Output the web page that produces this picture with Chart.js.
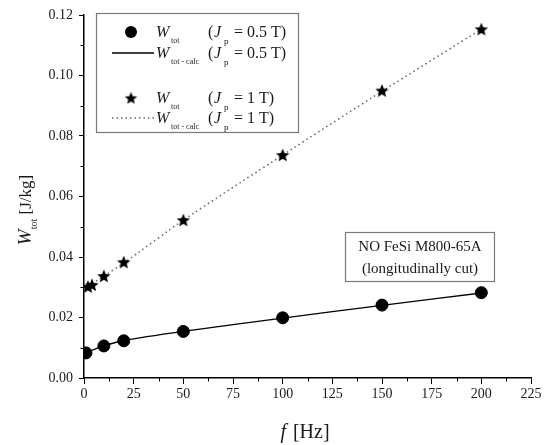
<!DOCTYPE html>
<html>
<head>
<meta charset="utf-8">
<script src="https://cdn.jsdelivr.net/npm/chart.js@4"></script>
<style>
html,body{margin:0;padding:0;background:#fff;}
#wrap{width:544px;height:445px;position:relative;}
</style>
</head>
<body>
<div id="wrap"><canvas id="c" width="544" height="445"></canvas></div>
<script>
// ---- data ----
const freqCircles = [1, 10, 20, 50, 100, 150, 200];
const wtot05 = [0.0083, 0.0106, 0.0123, 0.0154, 0.0199, 0.0241, 0.0282];
const freqStars = [2, 4, 10, 20, 50, 100, 150, 200];
const wtot1 = [0.0302, 0.0308, 0.0337, 0.0383, 0.0522, 0.0737, 0.0950, 0.1153];
const freqCalc = [0, 10, 20, 50, 100, 150, 200];
const calc05 = [0.0082, 0.0106, 0.0124, 0.0154, 0.0198, 0.0240, 0.0281];
const calc1 = [0.0295, 0.0337, 0.0380, 0.0522, 0.0737, 0.0948, 0.1153];
const xTicks = [0, 25, 50, 75, 100, 125, 150, 175, 200, 225];
const yTicks = [0.00, 0.02, 0.04, 0.06, 0.08, 0.10, 0.12];

const pts = (xs, ys) => xs.map((x, i) => ({x: x, y: ys[i]}));

// star marker
function makeStar(r) {
  const c = document.createElement('canvas');
  const s = Math.ceil(r * 2 + 2);
  c.width = s; c.height = s;
  const g = c.getContext('2d');
  g.fillStyle = '#000';
  g.beginPath();
  const cx = s / 2, cy = s / 2 + 0.6;
  for (let i = 0; i < 10; i++) {
    const rad = i % 2 === 0 ? r : r * 0.45;
    const a = -Math.PI / 2 + i * Math.PI / 5;
    const px = cx + rad * Math.cos(a), py = cy + rad * Math.sin(a);
    if (i === 0) g.moveTo(px, py); else g.lineTo(px, py);
  }
  g.closePath();
  g.fill();
  return c;
}
const starImg = makeStar(7);
const starImgSmall = makeStar(6.5);

const SERIF = '"Liberation Serif", "DejaVu Serif", serif';
const TXT = '#1a1a1a';

const decor = {
  id: 'decor',
  afterDraw(chart) {
    const ctx = chart.ctx;
    const xs = chart.scales.x, ys = chart.scales.y;
    const ca = chart.chartArea;
    ctx.save();
    // minor ticks
    ctx.strokeStyle = '#000';
    ctx.lineWidth = 1;
    ctx.beginPath();
    for (let v = 12.5; v < 225; v += 25) {
      const px = Math.round(xs.getPixelForValue(v)) + 0.5;
      ctx.moveTo(px, ca.bottom); ctx.lineTo(px, ca.bottom + 3.5);
    }
    for (let v = 0.01; v < 0.12; v += 0.02) {
      const py = Math.round(ys.getPixelForValue(v)) + 0.5;
      ctx.moveTo(ca.left, py); ctx.lineTo(ca.left - 3.5, py);
    }
    ctx.stroke();

    // x axis title
    ctx.fillStyle = TXT;
    ctx.textBaseline = 'alphabetic';
    ctx.textAlign = 'left';
    ctx.font = 'italic 20px ' + SERIF;
    const fw = ctx.measureText('f').width;
    ctx.font = '20px ' + SERIF;
    const hw = ctx.measureText(' [Hz]').width;
    let sx = 305 - (fw + hw + 2) / 2;
    ctx.font = 'italic 20px ' + SERIF;
    ctx.fillText('f', sx, 438);
    ctx.font = '20px ' + SERIF;
    ctx.fillText(' [Hz]', sx + fw + 2, 438);

    // y axis title (rotated)
    ctx.save();
    ctx.translate(31, 210);
    ctx.rotate(-Math.PI / 2);
    ctx.font = 'italic 19px ' + SERIF;
    const ww = ctx.measureText('W').width;
    ctx.font = '10px ' + SERIF;
    const tw = ctx.measureText('tot').width;
    ctx.font = '17px ' + SERIF;
    const jw = ctx.measureText(' [J/kg]').width;
    let ty = -(ww + tw + jw) / 2;
    ctx.font = 'italic 19px ' + SERIF;
    ctx.fillText('W', ty, 0);
    ctx.font = '10px ' + SERIF;
    ctx.fillText('tot', ty + ww, 6);
    ctx.font = '17px ' + SERIF;
    ctx.fillText(' [J/kg]', ty + ww + tw, 0);
    ctx.restore();

    // legend box
    ctx.strokeStyle = '#7a7a7a';
    ctx.lineWidth = 1.2;
    ctx.strokeRect(96.5, 13.5, 202, 119);
    const rows = [
      {y: 37, kind: 'circle', sub: 'tot', j: '= 0.5 T)'},
      {y: 58, kind: 'line', sub: 'tot - calc', j: '= 0.5 T)'},
      {y: 103, kind: 'star', sub: 'tot', j: '= 1 T)'},
      {y: 123, kind: 'dot', sub: 'tot - calc', j: '= 1 T)'}
    ];
    rows.forEach(r => {
      const cy = r.y - 5;
      if (r.kind === 'circle') {
        ctx.fillStyle = '#000';
        ctx.beginPath(); ctx.arc(131, cy, 6, 0, Math.PI * 2); ctx.fill();
      } else if (r.kind === 'star') {
        ctx.drawImage(starImgSmall, 131 - starImgSmall.width / 2, cy - starImgSmall.height / 2);
      } else if (r.kind === 'line') {
        ctx.strokeStyle = '#000'; ctx.lineWidth = 1.3; ctx.setLineDash([]);
        ctx.beginPath(); ctx.moveTo(112, cy); ctx.lineTo(154, cy); ctx.stroke();
      } else {
        ctx.strokeStyle = '#666'; ctx.lineWidth = 1.4; ctx.setLineDash([1.5, 3]);
        ctx.beginPath(); ctx.moveTo(112, cy); ctx.lineTo(154, cy); ctx.stroke();
        ctx.setLineDash([]);
      }
      ctx.fillStyle = TXT;
      ctx.font = 'italic 16px ' + SERIF;
      ctx.fillText('W', 156, r.y);
      ctx.font = '8px ' + SERIF;
      ctx.fillText(r.sub, 171, r.y + 6);
      ctx.font = '16px ' + SERIF;
      ctx.fillText('(', 208, r.y);
      ctx.font = 'italic 16px ' + SERIF;
      ctx.fillText('J', 214, r.y);
      ctx.font = '9px ' + SERIF;
      ctx.fillText('p', 224, r.y + 7);
      ctx.font = '16px ' + SERIF;
      ctx.fillText(' ' + r.j, 230, r.y);
    });

    // annotation box
    ctx.strokeStyle = '#7a7a7a';
    ctx.lineWidth = 1.2;
    ctx.fillStyle = '#fff';
    ctx.fillRect(345, 232, 149, 49);
    ctx.strokeRect(345.5, 232.5, 149, 49);
    ctx.fillStyle = TXT;
    ctx.font = '15px ' + SERIF;
    ctx.textAlign = 'center';
    ctx.fillText('NO FeSi M800-65A', 420, 251);
    ctx.fillText('(longitudinally cut)', 420, 273);
    ctx.restore();
  }
};

new Chart(document.getElementById('c'), {
  type: 'scatter',
  data: {
    datasets: [
      {label: 'W_tot-calc 0.5T', type: 'line', data: pts(freqCalc, calc05), borderColor: '#000', borderWidth: 1.3, pointRadius: 0, fill: false, tension: 0.2, order: 3},
      {label: 'W_tot-calc 1T', type: 'line', data: pts(freqCalc, calc1), borderColor: '#666', borderWidth: 1.5, borderDash: [1.5, 3.2], pointRadius: 0, fill: false, tension: 0.2, order: 3},
      {label: 'W_tot 0.5T', data: pts(freqCircles, wtot05), backgroundColor: '#000', borderColor: '#000', pointRadius: 6, pointStyle: 'circle', order: 1},
      {label: 'W_tot 1T', data: pts(freqStars, wtot1), backgroundColor: '#000', borderColor: '#000', pointStyle: starImg, order: 1}
    ]
  },
  options: {
    responsive: false,
    animation: false,
    layout: {padding: {left: 0, top: 15, right: 13, bottom: 0}},
    plugins: {legend: {display: false}, tooltip: {enabled: false}},
    scales: {
      x: {
        type: 'linear', min: 0, max: 225,
        afterBuildTicks: s => { s.ticks = xTicks.map(v => ({value: v})); },
        afterFit: s => { s.height = 67; },
        grid: {display: true, drawOnChartArea: false, drawTicks: true, tickLength: 6, color: '#000', lineWidth: 1},
        border: {display: true, color: '#000', width: 1.5},
        ticks: {font: {family: SERIF, size: 14}, color: TXT, padding: 2, maxRotation: 0}
      },
      y: {
        type: 'linear', min: 0, max: 0.12,
        afterBuildTicks: s => { s.ticks = yTicks.map(v => ({value: v})); },
        afterFit: s => { s.width = 84; },
        grid: {display: true, drawOnChartArea: false, drawTicks: true, tickLength: 5, color: '#000', lineWidth: 1},
        border: {display: true, color: '#000', width: 1.5},
        ticks: {font: {family: SERIF, size: 14}, color: TXT, padding: 6, callback: v => v.toFixed(2)}
      }
    }
  },
  plugins: [decor]
});
</script>
</body>
</html>
